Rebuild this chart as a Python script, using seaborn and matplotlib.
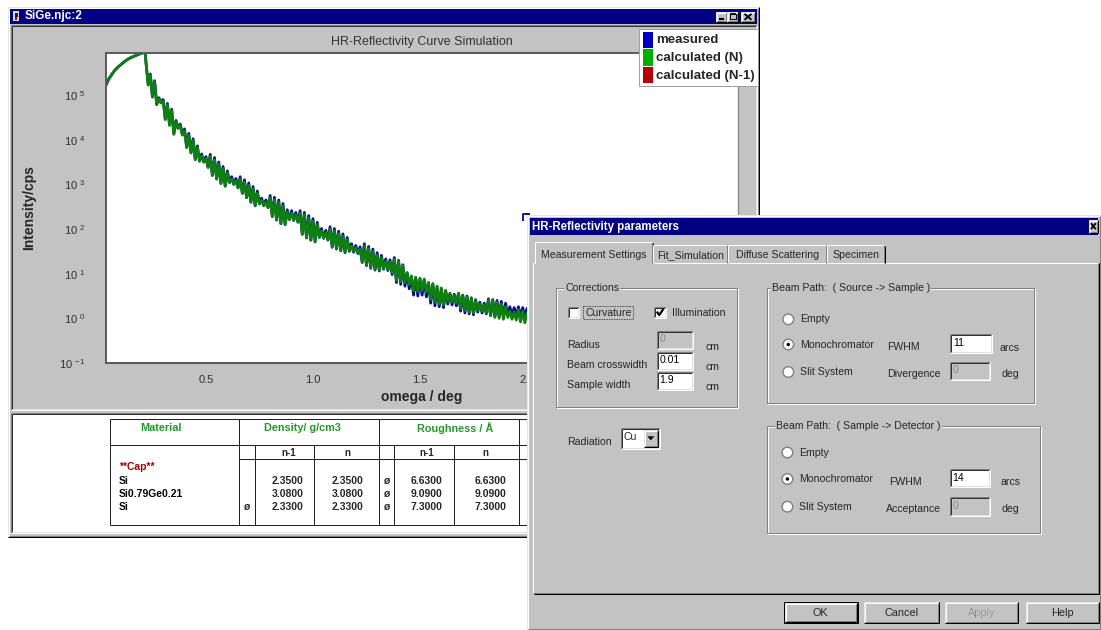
import numpy as np
import pandas as pd
import matplotlib
matplotlib.use("Agg")
import matplotlib.pyplot as plt
from matplotlib.patches import Rectangle, Circle, Polygon
from matplotlib.ticker import FixedLocator, FuncFormatter, NullFormatter, LogLocator, MultipleLocator
import seaborn as sns

# ------------------------------------------------------------------ data
series_names = ["measured", "calculated (N)", "calculated (N-1)"]

# total-reflection plateau (omega in deg, log10 of intensity in cps)
omega_rise = [0.033, 0.045, 0.060, 0.075, 0.090, 0.105, 0.120, 0.135, 0.150, 0.165, 0.180, 0.195, 0.210, 0.216]
log_rise = [5.22, 5.35, 5.46, 5.56, 5.63, 5.69, 5.75, 5.80, 5.84, 5.87, 5.90, 5.93, 5.95, 5.955]

# Kiessig-fringe region, read peak / valley by peak / valley
omega_fringe = [
    0.22, 0.23, 0.24, 0.25, 0.26, 0.27, 0.28, 0.29, 0.30, 0.31,
    0.32, 0.33, 0.34, 0.35, 0.36, 0.37, 0.38, 0.39, 0.40, 0.41,
    0.42, 0.43, 0.44, 0.45, 0.46, 0.47, 0.48, 0.49, 0.50, 0.51,
    0.52, 0.53, 0.54, 0.55, 0.56, 0.57, 0.58, 0.59, 0.60, 0.61,
    0.62, 0.63, 0.64, 0.65, 0.66, 0.67, 0.68, 0.69, 0.70, 0.71,
    0.72, 0.73, 0.74, 0.75, 0.76, 0.77, 0.78, 0.79, 0.80, 0.81,
    0.82, 0.83, 0.84, 0.85, 0.86, 0.87, 0.88, 0.89, 0.90, 0.91,
    0.92, 0.93, 0.94, 0.95, 0.96, 0.97, 0.98, 0.99, 1.00, 1.01,
    1.02, 1.03, 1.04, 1.05, 1.06, 1.07, 1.08, 1.09, 1.10, 1.11,
    1.12, 1.13, 1.14, 1.15, 1.16, 1.17, 1.18, 1.19, 1.20, 1.21,
    1.22, 1.23, 1.24, 1.25, 1.26, 1.27, 1.28, 1.29, 1.30, 1.31,
    1.32, 1.33, 1.34, 1.35, 1.36, 1.37, 1.38, 1.39, 1.40, 1.41,
    1.42, 1.43, 1.44, 1.45, 1.46, 1.47, 1.48, 1.49, 1.50, 1.51,
    1.52, 1.53, 1.54, 1.55, 1.56, 1.57, 1.58, 1.59, 1.60, 1.61,
    1.62, 1.63, 1.64, 1.65, 1.66, 1.67, 1.68, 1.69, 1.70, 1.71,
    1.72, 1.73, 1.74, 1.75, 1.76, 1.77, 1.78, 1.79, 1.80, 1.81,
    1.82, 1.83, 1.84, 1.85, 1.86, 1.87, 1.88, 1.89, 1.90, 1.91,
    1.92, 1.93, 1.94, 1.95, 1.96, 1.97, 1.98, 1.99, 2.00, 2.01,
    2.02, 2.03, 2.04, 2.05, 2.06,
]
log_calc_fringe = [
    5.72, 5.22, 5.45, 4.95, 5.30, 4.78, 4.92, 4.82, 4.87, 4.45,
    4.78, 4.32, 4.65, 4.12, 4.40, 4.25, 4.32, 4.10, 4.20, 3.82,
    4.10, 3.70, 3.98, 3.55, 3.82, 3.52, 3.64, 3.50, 3.58, 3.38,
    3.62, 3.20, 3.55, 3.12, 3.45, 3.02, 3.35, 2.96, 3.25, 3.05,
    3.12, 3.00, 3.08, 2.92, 3.12, 2.80, 3.05, 2.70, 2.98, 2.60,
    2.90, 2.52, 2.80, 2.56, 2.64, 2.53, 2.60, 2.48, 2.70, 2.28,
    2.66, 2.20, 2.60, 2.12, 2.52, 2.10, 2.38, 2.22, 2.36, 2.20,
    2.32, 2.16, 2.36, 1.88, 2.32, 1.80, 2.25, 1.75, 2.18, 1.72,
    2.10, 1.82, 1.96, 1.80, 1.92, 1.76, 2.00, 1.60, 1.96, 1.56,
    1.90, 1.52, 1.84, 1.48, 1.76, 1.52, 1.62, 1.50, 1.58, 1.47,
    1.55, 1.26, 1.62, 1.20, 1.56, 1.14, 1.50, 1.10, 1.42, 1.08,
    1.36, 1.12, 1.28, 1.10, 1.26, 1.02, 1.32, 0.85, 1.28, 0.82,
    1.18, 0.80, 1.02, 0.75, 0.95, 0.62, 0.92, 0.60, 0.90, 0.62,
    0.88, 0.58, 0.80, 0.42, 0.78, 0.36, 0.72, 0.32, 0.68, 0.30,
    0.62, 0.38, 0.55, 0.36, 0.52, 0.34, 0.56, 0.22, 0.52, 0.18,
    0.48, 0.14, 0.44, 0.12, 0.40, 0.18, 0.32, 0.16, 0.30, 0.12,
    0.42, 0.06, 0.40, 0.02, 0.36, 0.00, 0.32, -0.02, 0.26, 0.02,
    0.16, -0.02, 0.14, -0.04, 0.20, -0.08, 0.16, -0.10, 0.12, -0.12,
    0.10, -0.14, 0.08, -0.15, 0.05,
]
log_meas_fringe = [
    5.72, 5.24, 5.47, 4.96, 5.32, 4.80, 4.94, 4.83, 4.90, 4.46,
    4.81, 4.33, 4.68, 4.13, 4.43, 4.26, 4.35, 4.11, 4.24, 3.83,
    4.14, 3.71, 4.02, 3.56, 3.86, 3.52, 3.68, 3.50, 3.62, 3.38,
    3.67, 3.20, 3.60, 3.12, 3.50, 3.02, 3.40, 2.96, 3.30, 3.04,
    3.17, 3.00, 3.13, 2.92, 3.17, 2.80, 3.10, 2.70, 3.03, 2.60,
    2.95, 2.52, 2.85, 2.56, 2.69, 2.52, 2.65, 2.48, 2.75, 2.28,
    2.71, 2.20, 2.65, 2.12, 2.57, 2.10, 2.43, 2.21, 2.41, 2.19,
    2.37, 2.15, 2.41, 1.88, 2.37, 1.80, 2.30, 1.75, 2.23, 1.71,
    2.15, 1.81, 2.01, 1.79, 1.97, 1.75, 2.05, 1.59, 2.01, 1.55,
    1.95, 1.51, 1.89, 1.47, 1.81, 1.50, 1.67, 1.48, 1.63, 1.45,
    1.60, 1.25, 1.67, 1.18, 1.61, 1.12, 1.55, 1.08, 1.47, 1.06,
    1.41, 1.10, 1.33, 1.07, 1.31, 0.98, 1.36, 0.80, 1.30, 0.76,
    1.20, 0.72, 1.02, 0.66, 0.93, 0.52, 0.90, 0.50, 0.88, 0.52,
    0.86, 0.48, 0.80, 0.34, 0.76, 0.28, 0.70, 0.26, 0.66, 0.24,
    0.62, 0.32, 0.56, 0.30, 0.54, 0.28, 0.56, 0.16, 0.52, 0.12,
    0.50, 0.10, 0.46, 0.08, 0.42, 0.14, 0.36, 0.12, 0.34, 0.10,
    0.44, 0.06, 0.42, 0.04, 0.40, 0.04, 0.38, 0.04, 0.34, 0.08,
    0.26, 0.06, 0.24, 0.06, 0.26, 0.04, 0.24, 0.04, 0.22, 0.04,
    0.20, 0.02, 0.20, 0.02, 0.18,
]

x_ticks = [0.5, 1.0, 1.5, 2.0]
x_tick_labels = ["0.5", "1.0", "1.5", "2.0"]
y_exponents = [-1, 0, 1, 2, 3, 4, 5]

table_materials = ["**Cap**", "Si", "Si0.79Ge0.21", "Si"]
density_flag = ["", "", "", "ø"]
density_prev = ["", "2.3500", "3.0800", "2.3300"]
density_now = ["", "2.3500", "3.0800", "2.3300"]
rough_flag = ["", "ø", "ø", "ø"]
rough_prev = ["", "6.6300", "9.0900", "7.3000"]
rough_now = ["", "6.6300", "9.0900", "7.3000"]

# ------------------------------------------------------------------ style
sns.set_style("white")
plt.rcParams["font.family"] = ["Liberation Sans", "DejaVu Sans"]
plt.rcParams["mathtext.default"] = "regular"
plt.rcParams["axes.unicode_minus"] = False

W, H = 1101, 630
PX = 0.72
GRAY = "#c3c3c3"
DGRAY = "#808080"
NAVY = "#000080"
C_MEAS = "#0b0b8f"
C_CALC = "#0e800f"

fig = plt.figure(figsize=(W / 100, H / 100), dpi=100)
fig.patch.set_facecolor("white")

bg = fig.add_axes([0, 0, 1, 1])
bg.set_xlim(0, W); bg.set_ylim(H, 0); bg.axis("off"); bg.set_zorder(0)

L, R, T, B = 106, 738, 52.7, 363
ax = fig.add_axes([L / W, 1 - B / H, (R - L) / W, (B - T) / H])
ax.set_zorder(1)

ov = fig.add_axes([0, 0, 1, 1])
ov.set_xlim(0, W); ov.set_ylim(H, 0); ov.axis("off"); ov.set_zorder(2)


def box(a, x0, y0, x1, y1, fc, ec="none", lw=PX, z=1, ls="-"):
    a.add_patch(Rectangle((x0, y0), x1 - x0, y1 - y0, facecolor=fc, edgecolor=ec,
                          linewidth=lw, zorder=z, linestyle=ls))


def seg(a, xs, ys, c, lw=PX, z=3, ls="-"):
    a.plot(xs, ys, color=c, lw=lw, zorder=z, ls=ls, solid_capstyle="butt")


def bevel(a, x0, y0, x1, y1, tl, br, z=3, lw=PX):
    seg(a, [x0, x1], [y0, y0], tl, lw, z)
    seg(a, [x0, x0], [y0, y1], tl, lw, z)
    seg(a, [x0, x1], [y1, y1], br, lw, z)
    seg(a, [x1, x1], [y0, y1], br, lw, z)


def raised(a, x0, y0, x1, y1, z=3):
    bevel(a, x0, y0, x1, y1, "#e6e6e6", "#000000", z)
    bevel(a, x0 + 1, y0 + 1, x1 - 1, y1 - 1, "#ffffff", DGRAY, z)


def sunken(a, x0, y0, x1, y1, z=3):
    bevel(a, x0, y0, x1, y1, DGRAY, "#ffffff", z)
    bevel(a, x0 + 1, y0 + 1, x1 - 1, y1 - 1, "#303030", "#e0e0e0", z)


def etched(a, x0, y0, x1, y1, z=3):
    box(a, x0 + 1, y0 + 1, x1 + 1, y1 + 1, "none", ec="#ffffff", z=z)
    box(a, x0, y0, x1, y1, "none", ec=DGRAY, z=z)


def txt(a, x, y, s, size=7.6, ha="left", z=6, **kw):
    a.text(x, y, s, fontsize=size, ha=ha, va="center", zorder=z, **kw)


# ------------------------------------------------------------------ main window
box(bg, 8, 7, 759, 537, GRAY)
raised(bg, 8, 7, 759, 537)
box(bg, 10, 9, 757, 23.5, NAVY, z=2)
box(bg, 13, 11, 19, 21, "#d8d8d8", z=3)
box(bg, 14.5, 12.5, 17.5, 17, "#202020", z=4)
box(bg, 15, 17, 17, 20, "#b00000", z=4)
txt(bg, 25, 16.3, "SiGe.njc:2", size=8.5, color="white", fontweight="bold")
for (bx0, bx1) in [(716, 727), (727, 738), (741, 755)]:
    box(bg, bx0, 11.5, bx1, 21.5, GRAY, z=3)
    raised(bg, bx0, 11.5, bx1, 21.5, z=4)
seg(bg, [719, 724], [19, 19], "black", lw=1.6, z=5)
box(bg, 729.5, 13.8, 735.5, 19.5, "none", ec="black", lw=PX, z=5)
seg(bg, [729.5, 735.5], [14.2, 14.2], "black", lw=1.3, z=5)
seg(bg, [744.5, 751.5], [13.8, 19.8], "black", lw=1.3, z=5)
seg(bg, [744.5, 751.5], [19.8, 13.8], "black", lw=1.3, z=5)

# chart panel
sunken(bg, 11, 25, 757, 410)
txt(bg, 421.7, 41.7, "HR-Reflectivity Curve Simulation", size=9, ha="center", color="#333333")

# table panel
box(bg, 11, 413, 757, 533, "white", z=1)
sunken(bg, 11, 413, 757, 533)
TL = "#202020"
seg(bg, [109.5, 527], [419.3, 419.3], TL, z=4)
seg(bg, [109.5, 527], [445, 445], TL, z=4)
seg(bg, [239.3, 527], [459.3, 459.3], TL, z=4)
seg(bg, [109.5, 527], [525, 525], TL, z=4)
for xv in [109.5, 239.3, 378.8, 519]:
    seg(bg, [xv, xv], [419.3, 525], TL, z=4)
for xv in [254.8, 314, 393.6, 453.9]:
    seg(bg, [xv, xv], [445, 525], TL, z=4)
HG = "#27962a"
txt(bg, 160.7, 428.3, "Material", size=7.8, ha="center", color=HG, fontweight="bold")
txt(bg, 302.8, 428.3, "Density/ g/cm3", size=7.8, ha="center", color=HG, fontweight="bold")
txt(bg, 454.9, 428.3, "Roughness / Å", size=7.8, ha="center", color=HG, fontweight="bold")
for xc, s in [(289, "n-1"), (347.8, "n"), (426.3, "n-1"), (485.5, "n")]:
    txt(bg, xc, 452.8, s, size=7, ha="center", fontweight="bold")
row_y = [466.7, 481, 494.3, 507.3]
for i, yy in enumerate(row_y):
    col = "#a00000" if i == 0 else "black"
    txt(bg, 118.8, yy, table_materials[i], size=7.5, color=col, fontweight="bold")
    txt(bg, 246.5, yy, density_flag[i], size=7.5, ha="center", fontweight="bold")
    txt(bg, 303.5, yy, density_prev[i], size=7.5, ha="right", fontweight="bold")
    txt(bg, 363.3, yy, density_now[i], size=7.5, ha="right", fontweight="bold")
    txt(bg, 386, yy, rough_flag[i], size=7.5, ha="center", fontweight="bold")
    txt(bg, 442.5, yy, rough_prev[i], size=7.5, ha="right", fontweight="bold")
    txt(bg, 506.2, yy, rough_now[i], size=7.5, ha="right", fontweight="bold")

# ------------------------------------------------------------------ curves
omega_all = omega_rise + omega_fringe
df = pd.concat([
    pd.DataFrame({"omega": omega_all,
                  "intensity": 10.0 ** np.array(log_rise + log_meas_fringe),
                  "series": series_names[0]}),
    pd.DataFrame({"omega": omega_all,
                  "intensity": 10.0 ** np.array(log_rise + log_calc_fringe),
                  "series": series_names[1]}),
], ignore_index=True)

ax.set_facecolor("white")
sns.lineplot(data=df, x="omega", y="intensity", hue="series",
             hue_order=series_names[:2],
             palette={series_names[0]: C_MEAS, series_names[1]: C_CALC},
             linewidth=2.0, legend=False, errorbar=None, ax=ax)
ax.set_yscale("log")
ax.set_xlim(0.033, 2.986)
ax.set_ylim(0.1, 10 ** 5.947)

ax.yaxis.set_major_locator(FixedLocator([10.0 ** e for e in y_exponents]))
ax.yaxis.set_major_formatter(FuncFormatter(lambda v, p: "10 $^{%d}$" % int(round(np.log10(v)))))
ax.yaxis.set_minor_locator(LogLocator(base=10, subs=range(2, 10)))
ax.yaxis.set_minor_formatter(NullFormatter())
ax.xaxis.set_major_locator(FixedLocator(x_ticks))
ax.set_xticklabels(x_tick_labels)
ax.xaxis.set_minor_locator(MultipleLocator(0.1))

ax.tick_params(which="major", direction="out", length=5, width=1, color="#5a5a5a",
               labelsize=8, labelcolor="#303030")
ax.tick_params(axis="y", which="major", pad=10)
ax.tick_params(axis="x", which="major", pad=4)
ax.tick_params(which="minor", direction="out", length=3, width=0.8, color="#5a5a5a")
for side in ["left", "bottom", "top"]:
    ax.spines[side].set_color("#5a5a5a")
    ax.spines[side].set_linewidth(1.4)
ax.spines["right"].set_color("#8a8a8a")
ax.spines["right"].set_linewidth(1.0)

ax.set_ylabel("Intensity/cps", fontsize=10, fontweight="bold", va="center")
ax.yaxis.set_label_coords((29 - L) / (R - L), (B - 208) / (B - T))
ax.set_xlabel("omega / deg", fontsize=10, fontweight="bold", va="center")
ax.xaxis.set_label_coords((422 - L) / (R - L), (B - 396.7) / (B - T))

# ------------------------------------------------------------------ legend
box(ov, 639.3, 29.3, 758.3, 86, "white", ec="#a0a0a0", z=2)
leg_cols = ["#0000c4", "#00b000", "#b40000"]
leg_rows = [(31.7, 48.3, 40.4), (49.3, 66, 58.0), (66.7, 83.3, 75.6)]
for name, c, (y0, y1, yt) in zip(series_names, leg_cols, leg_rows):
    box(ov, 642.7, y0, 652.7, y1, c, z=3)
    txt(ov, 656, yt, name, size=9.5, fontweight="bold")

# ------------------------------------------------------------------ dialog
box(ov, 527, 215, 1101, 630, GRAY, z=1)
raised(ov, 527, 215, 1100.5, 629.5)
seg(ov, [523, 523, 530], [221, 213.5, 213.5], NAVY, lw=1.3, z=4)
box(ov, 530, 218, 1098, 235, NAVY, z=2)
txt(ov, 532.5, 226.7, "HR-Reflectivity parameters", size=8.3, color="white", fontweight="bold")
box(ov, 1088.5, 220, 1098, 232.5, GRAY, z=3)
raised(ov, 1088.5, 220, 1098, 232.5, z=4)
seg(ov, [1090.8, 1095.8], [223.2, 229.2], "black", lw=1.3, z=5)
seg(ov, [1090.8, 1095.8], [229.2, 223.2], "black", lw=1.3, z=5)

# tab panel
seg(ov, [533, 533], [263.3, 593.3], "#ffffff", z=3)
seg(ov, [653.3, 1098], [263.3, 263.3], "#ffffff", z=3)
seg(ov, [533, 535], [263.3, 263.3], "#ffffff", z=3)
seg(ov, [533, 1098], [593.3, 593.3], DGRAY, z=3)
seg(ov, [534, 1099], [594.3, 594.3], "#000000", z=3)
seg(ov, [1097.5, 1097.5], [263.3, 593.3], DGRAY, z=3)
seg(ov, [1098.5, 1098.5], [263.3, 594.3], "#000000", z=3)
tabs = [(535, 653.3, "Measurement Settings", True), (653.3, 728.3, "Fit_Simulation", False),
        (728.3, 826.7, "Diffuse Scattering", False), (826.7, 885, "Specimen", False)]
for tx0, tx1, label, sel in tabs:
    ty0 = 241.7 if sel else 244.5
    seg(ov, [tx0, tx1 - 1], [ty0, ty0], "#ffffff", z=4)
    seg(ov, [tx0, tx0], [ty0, 263.3], "#ffffff", z=4)
    seg(ov, [tx1 - 1, tx1 - 1], [ty0, 263.3], DGRAY, z=4)
    seg(ov, [tx1, tx1], [ty0 + 1, 263.3], "#000000", z=4)
    txt(ov, (tx0 + tx1) / 2, 255, label, size=7.6, ha="center")

LB = dict(facecolor=GRAY, edgecolor="none", pad=0.6)

# Corrections group
etched(ov, 556, 288.3, 737.3, 406.7)
txt(ov, 565, 288.3, "Corrections", bbox=LB)
box(ov, 567.7, 306.7, 579.3, 318.3, "white", z=3)
sunken(ov, 567.7, 306.7, 579.3, 318.3, z=4)
txt(ov, 585.5, 312.7, "Curvature")
box(ov, 583.3, 306, 632.7, 319.3, "none", ec="#202020", lw=0.6, z=4, ls=(0, (1, 1)))
box(ov, 654, 306.7, 665.7, 318.3, "white", z=3)
sunken(ov, 654, 306.7, 665.7, 318.3, z=4)
seg(ov, [656.8, 659.2, 663.4], [311.6, 315.0, 309.0], "black", lw=1.6, z=5)
txt(ov, 671.7, 312.7, "Illumination")


def field(x0, y0, x1, y1, s, enabled=True):
    box(ov, x0, y0, x1, y1, "white" if enabled else GRAY, z=3)
    sunken(ov, x0, y0, x1, y1, z=4)
    txt(ov, x0 + 2.8, (y0 + y1) / 2 - 0.5, s, size=7.6, color="black" if enabled else "#8a8a8a")


txt(ov, 566.7, 345, "Radius")
field(656.7, 330.7, 692.7, 349.3, "0", enabled=False)
txt(ov, 705, 346.7, "cm")
txt(ov, 566.7, 365.5, "Beam crosswidth")
field(656.7, 351.7, 692.7, 370, "0.01")
txt(ov, 705, 366.7, "cm")
txt(ov, 566.7, 385, "Sample width")
field(656.7, 371.7, 692.7, 390, "1.9")
txt(ov, 705, 387, "cm")


def radio(cx, cy, label, sel=False):
    ov.add_patch(Circle((cx, cy), 5.3, facecolor="white", edgecolor=DGRAY, linewidth=1.0, zorder=4))
    if sel:
        ov.add_patch(Circle((cx, cy), 1.7, facecolor="black", edgecolor="none", zorder=5))
    txt(ov, cx + 11.7, cy, label)


# Beam path source
etched(ov, 767.3, 288.3, 1034, 403.3)
txt(ov, 771.7, 288.3, "Beam Path:  ( Source -> Sample )", bbox=LB)
radio(788.3, 319.3, "Empty")
radio(788.3, 344.5, "Monochromator", sel=True)
radio(788.3, 372, "Slit System")
txt(ov, 886.7, 347.3, "FWHM")
field(950, 334, 991.7, 352.7, "11")
txt(ov, 1000, 348.3, "arcs")
txt(ov, 886.7, 374, "Divergence")
field(950, 361.7, 990, 380, "0", enabled=False)
txt(ov, 1001.7, 374, "deg")

# Radiation combo
txt(ov, 567.4, 441.7, "Radiation")
box(ov, 620.7, 428.3, 660, 449.3, "white", z=3)
sunken(ov, 620.7, 428.3, 660, 449.3, z=4)
txt(ov, 623.8, 437.5, "Cu")
box(ov, 643.5, 430.3, 658, 447.3, GRAY, z=5)
raised(ov, 643.5, 430.3, 658, 447.3, z=6)
ov.add_patch(Polygon([(647.3, 436.3), (654.3, 436.3), (650.8, 440.3)], closed=True,
                     facecolor="black", edgecolor="none", zorder=7))

# Beam path detector
etched(ov, 767.4, 426, 1040.4, 532.7)
txt(ov, 776.3, 426, "Beam Path:  ( Sample -> Detector )", bbox=LB)
radio(787.4, 452.5, "Empty")
radio(787.4, 479, "Monochromator", sel=True)
radio(787.4, 506.7, "Slit System")
txt(ov, 889, 481.7, "FWHM")
field(949.6, 469, 990.4, 487.3, "14")
txt(ov, 1000.7, 481.7, "arcs")
txt(ov, 886, 509, "Acceptance")
field(949.6, 496.7, 990.4, 516, "0", enabled=False)
txt(ov, 1001.5, 509, "deg")


def button(x0, x1, label, default=False, disabled=False):
    y0, y1 = 601.7, 623.3
    box(ov, x0, y0, x1, y1, GRAY, z=3)
    if default:
        box(ov, x0, y0, x1, y1, "none", ec="black", lw=PX, z=4)
        raised(ov, x0 + 1, y0 + 1, x1 - 1, y1 - 1, z=4)
    else:
        raised(ov, x0, y0, x1, y1, z=4)
    cx, cy = (x0 + x1) / 2, (y0 + y1) / 2
    if disabled:
        txt(ov, cx + 0.8, cy + 0.8, label, size=7.8, ha="center", color="white")
        txt(ov, cx, cy, label, size=7.8, ha="center", color="#8a8a8a", z=7)
    else:
        txt(ov, cx, cy, label, size=7.8, ha="center")


button(783.7, 857.8, "OK", default=True)
button(864.4, 938.5, "Cancel")
button(944.8, 1018, "Apply", disabled=True)
button(1025.6, 1099, "Help")

fig.savefig("out.png", dpi=100)
